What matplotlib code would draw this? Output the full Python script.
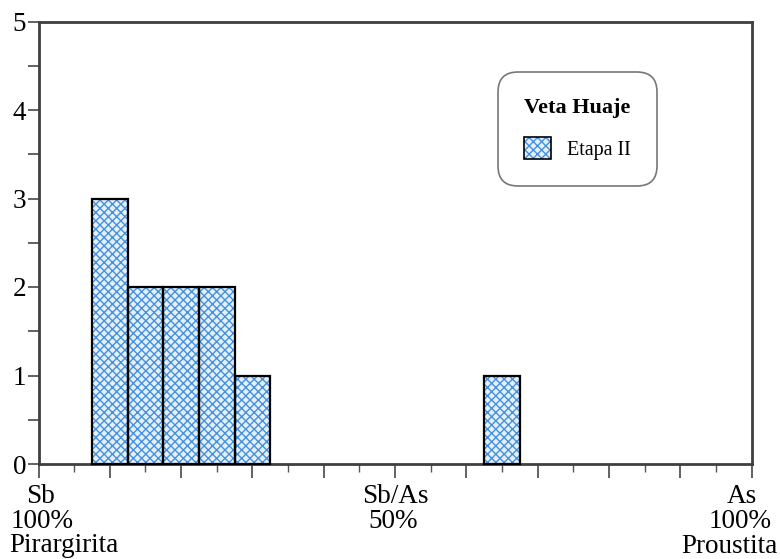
import matplotlib
matplotlib.use("Agg")
import matplotlib.pyplot as plt
from matplotlib.patches import Patch
from matplotlib.legend_handler import HandlerTuple

plt.rcParams['font.family'] = ['Liberation Serif', 'DejaVu Serif']
plt.rcParams['hatch.linewidth'] = 1.0

# Sb/As composition bins (% As, bin centres) and counts
bin_centers = [10, 15, 20, 25, 30, 65]
counts = [3, 2, 2, 2, 1, 1]
bin_width = 5
series_name = "Etapa II"
legend_title = "Veta Huaje"
y_ticks = [0, 1, 2, 3, 4, 5]

fill_color = '#e3effb'
hatch_color = '#4691dc'
hatch = 'xxxx'

W, H = 780, 559
fig = plt.figure(figsize=(W / 100, H / 100), dpi=100)
ax = fig.add_axes([38.5 / W, (H - 464) / H, 713 / W, 442.5 / H])

# patterned fill, then black outlines on top
ax.bar(bin_centers, counts, width=bin_width, facecolor=fill_color,
       edgecolor=hatch_color, linewidth=0, hatch=hatch, zorder=3)
ax.bar(bin_centers, counts, width=bin_width, facecolor='none',
       edgecolor='black', linewidth=1.6, zorder=4, clip_on=False)

ax.set_xlim(0, 100)
ax.set_ylim(0, 5)

spine_color = '#3f3f3f'
for s in ax.spines.values():
    s.set_color(spine_color)
    s.set_linewidth(2.0)
    s.set_zorder(2)

ax.set_yticks(y_ticks)
ax.set_yticks([0.5, 1.5, 2.5, 3.5, 4.5], minor=True)
ax.set_xticks(range(0, 101, 10))
ax.set_xticks(range(5, 100, 10), minor=True)
ax.set_xticklabels([])
ax.tick_params(axis='y', which='both', direction='out', length=8, width=1.3,
               color='#555555', labelsize=19.5, pad=1)
ax.tick_params(axis='x', which='major', direction='out', length=10, width=1.3,
               color='#555555')
ax.tick_params(axis='x', which='minor', direction='out', length=6, width=1.0,
               color='#555555')

# composition labels under the x axis (pixel positions -> figure fraction)
def label(x, y, s, ha='center'):
    fig.text(x / W, 1 - y / H, s, ha=ha, va='baseline', fontsize=19.5)

label(41, 503, "Sb")
label(42, 528, "100%")
label(64, 552, "Pirargirita")
label(395, 503, "Sb/As")
label(393, 528, "50%")
label(742, 503, "As")
label(740, 528, "100%")
label(778, 553, "Proustita", ha='right')

h_fill = Patch(facecolor=fill_color, edgecolor=hatch_color, linewidth=0,
               hatch=hatch)
h_edge = Patch(facecolor='none', edgecolor='black', linewidth=1.2)
leg = ax.legend([(h_fill, h_edge)], [series_name], title=legend_title,
                handler_map={tuple: HandlerTuple(ndivide=1, pad=0)},
                loc='upper left', bbox_to_anchor=((498 - 38.5) / 713,
                                                  1 - (72 - 21.5) / 442.5),
                fontsize=14.5, title_fontproperties={'weight': 'bold',
                                                     'size': 16},
                frameon=True, fancybox=True, borderpad=1.3,
                handlelength=1.3, handleheight=1.3, handletextpad=0.8,
                labelspacing=0.95, borderaxespad=0)
frame = leg.get_frame()
frame.set_edgecolor('#555555')
frame.set_linewidth(1.2)
frame.set_boxstyle('round,pad=0,rounding_size=1.0')

fig.savefig('out.png', dpi=100)
